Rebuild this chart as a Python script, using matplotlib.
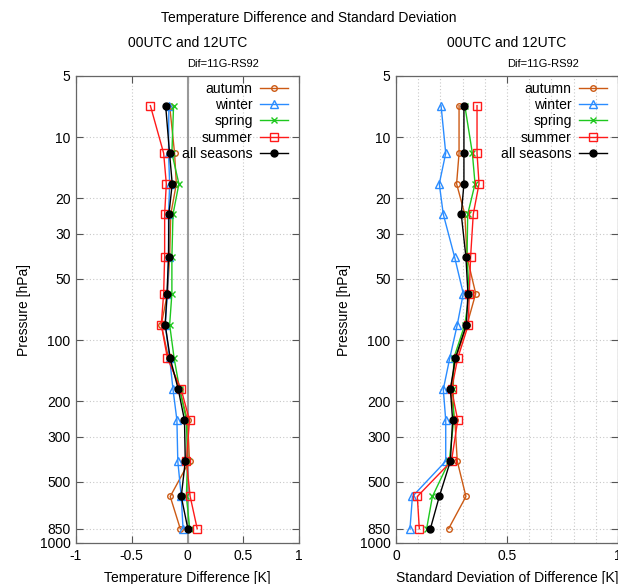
import numpy as np
import matplotlib
matplotlib.use('Agg')
import matplotlib.pyplot as plt
from matplotlib.ticker import FixedLocator, NullLocator, MultipleLocator

plt.rcParams['font.family'] = ['Liberation Sans', 'DejaVu Sans']
plt.rcParams['font.size'] = 10

# pressure levels [hPa]
levels = [7, 12, 17, 24, 39, 59, 84, 123, 175, 248, 395, 590, 850]

# mean temperature difference [K]
dif_autumn = [-0.16, -0.116, -0.10, -0.15, -0.16, -0.18, -0.235, -0.17, -0.07, 0.0, 0.018, -0.155, -0.065]
dif_winter = [-0.167, -0.17, -0.16, -0.17, -0.17, -0.18, -0.2, -0.16, -0.13, -0.095, -0.087, -0.056, -0.04]
dif_spring = [-0.125, -0.14, -0.077, -0.13, -0.14, -0.14, -0.16, -0.12, -0.07, -0.01, 0.0, -0.01, 0.02]
dif_summer = [-0.333, -0.214, -0.19, -0.205, -0.205, -0.214, -0.235, -0.18, -0.057, 0.018, -0.01, 0.024, 0.087]
dif_all = [-0.196, -0.161, -0.137, -0.167, -0.17, -0.184, -0.2, -0.155, -0.083, -0.027, -0.02, -0.056, 0.003]

# standard deviation of difference [K]
sd_autumn = [0.284, 0.284, 0.273, 0.31, 0.32, 0.359, 0.32, 0.27, 0.245, 0.265, 0.276, 0.315, 0.237]
sd_winter = [0.203, 0.224, 0.195, 0.213, 0.264, 0.303, 0.276, 0.242, 0.213, 0.224, 0.224, 0.074, 0.063]
sd_spring = [0.31, 0.344, 0.356, 0.323, 0.32, 0.33, 0.31, 0.26, 0.258, 0.26, 0.24, 0.164, 0.138]
sd_summer = [0.365, 0.365, 0.374, 0.348, 0.336, 0.33, 0.326, 0.278, 0.25, 0.278, 0.25, 0.096, 0.105]
sd_all = [0.306, 0.306, 0.306, 0.294, 0.315, 0.324, 0.317, 0.267, 0.245, 0.255, 0.245, 0.195, 0.155]

seasons = ['autumn', 'winter', 'spring', 'summer', 'all seasons']
colors = ['#cc5a14', '#2a8cff', '#1ec81e', '#ff1a1a', '#000000']
markers = ['o', '^', 'x', 's', 'o']
msizes = [4, 5.5, 5, 5.5, 5]

ylevels = [5, 10, 20, 30, 50, 100, 200, 300, 500, 850, 1000]

fig = plt.figure(figsize=(6.18, 5.84), dpi=100)
fig.text(0.5, 1 - 18 / 584, 'Temperature Difference and Standard Deviation', ha='center', va='center', fontsize=10)

ax1 = fig.add_axes([76 / 618, 1 - 543 / 584, 223 / 618, 467 / 584])
ax2 = fig.add_axes([396 / 618, 1 - 543 / 584, 222 / 618, 467 / 584])


def setup(ax):
    ax.set_yscale('log')
    ax.set_ylim(1000, 5)
    ax.yaxis.set_major_locator(FixedLocator(ylevels))
    ax.yaxis.set_minor_locator(NullLocator())
    ax.set_yticklabels([str(v) for v in ylevels])
    ax.tick_params(which='both', direction='in', top=True, right=True, length=5, width=0.8,
                   color='#555555', labelsize=10, pad=4)
    ax.tick_params(which='minor', length=0)
    for s in ax.spines.values():
        s.set_color('#666666')
        s.set_linewidth(0.9)
    ax.set_title('00UTC and 12UTC', fontsize=10, pad=21)
    ax.text(0.5, 1.015, 'Dif=11G-RS92', transform=ax.transAxes, fontsize=8, ha='left', va='bottom')
    ax.set_ylabel('Pressure [hPa]', fontsize=10, labelpad=6)
    ax.xaxis.set_label_coords(0.5, -0.06)


def draw(ax, data):
    for vals, lab, c, m, ms in zip(data, seasons, colors, markers, msizes):
        filled = lab == 'all seasons'
        ax.plot(vals, levels, color=c, marker=m, markersize=ms, linewidth=1,
                markerfacecolor=c if filled else 'none', markeredgewidth=1, label=lab, zorder=3)
    ax.legend(loc='upper right', bbox_to_anchor=(0.975, 1.0), frameon=False, markerfirst=False,
              handlelength=2.0, handletextpad=0.5, labelspacing=0.17, fontsize=10.1, borderaxespad=0.0)


setup(ax1)
ax1.set_xlim(-1, 1)
ax1.set_xticks([-1, -0.5, 0, 0.5, 1])
ax1.set_xticklabels(['-1', '-0.5', '0', '0.5', '1'])
ax1.grid(True, which='major', color='#c8c8c8', linestyle=(0, (1, 2)), linewidth=0.8)
ax1.axvline(0, color='#999999', linewidth=1.5, zorder=2)
ax1.set_xlabel('Temperature Difference [K]', fontsize=10)
draw(ax1, [dif_autumn, dif_winter, dif_spring, dif_summer, dif_all])

setup(ax2)
ax2.set_xlim(0, 1)
ax2.set_xticks([0, 0.5, 1])
ax2.set_xticklabels(['0', '0.5', '1'])
ax2.xaxis.set_minor_locator(MultipleLocator(0.1))
ax2.grid(True, which='major', axis='y', color='#c8c8c8', linestyle=(0, (1, 2)), linewidth=0.8)
ax2.grid(True, which='both', axis='x', color='#c8c8c8', linestyle=(0, (1, 2)), linewidth=0.8)
ax2.set_xlabel('Standard Deviation of Difference [K]', fontsize=10)
draw(ax2, [sd_autumn, sd_winter, sd_spring, sd_summer, sd_all])

fig.savefig('out.png', dpi=100)
